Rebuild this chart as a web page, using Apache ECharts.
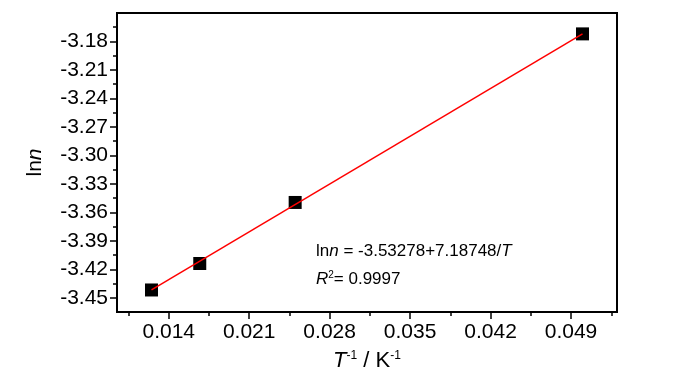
<!DOCTYPE html>
<html>
<head>
<meta charset="utf-8">
<script src="https://cdn.jsdelivr.net/npm/echarts@6/dist/echarts.min.js"></script>
<style>html,body{margin:0;padding:0;background:#fff;}#c{width:700px;height:374px;}</style>
</head>
<body>
<div id="c"></div>
<script>
// Data
var invT = [0.0125, 0.0167, 0.025, 0.05];
var lnN = [-3.4418, -3.4139, -3.3496, -3.1720];
var fitX = [0.0125, 0.05];
var fitY = [-3.4418, -3.1720];
var yMajor = [-3.45, -3.42, -3.39, -3.36, -3.33, -3.30, -3.27, -3.24, -3.21, -3.18];
var yMinor = [-3.435, -3.405, -3.375, -3.345, -3.315, -3.285, -3.255, -3.225, -3.195, -3.165];
var xMajor = [0.014, 0.021, 0.028, 0.035, 0.042, 0.049];
var xMinor = [0.0105, 0.0175, 0.0245, 0.0315, 0.0385, 0.0455, 0.0525];
var eqText = ['-3.53278+7.18748/', '0.9997'];

var FF = "'Liberation Sans',Arial,sans-serif";
var chart = echarts.init(document.getElementById('c'));
var yMin = -3.465, yMax = -3.15, xMin = 0.0095, xMax = 0.053;
function pts(xs, ys){ return xs.map(function(x,i){return [x, ys[i]];}); }

chart.setOption({
  animation: false,
  grid: {left: 117, right: 83, top: 13, bottom: 62, outerBoundsMode: 'none', containLabel: false,
         show: true, borderColor: '#000', borderWidth: 2, backgroundColor: 'transparent'},
  xAxis: [
    {type: 'value', min: xMin, max: xMax, position: 'bottom',
     axisLine: {show: true, lineStyle: {color: '#000', width: 2}},
     axisTick: {show: true, inside: false, length: 7, customValues: xMajor, lineStyle: {color: '#000', width: 1.5}},
     axisLabel: {show: true, customValues: xMajor, color: '#000', fontFamily: FF, fontSize: 21, margin: 10,
       formatter: function(v){ return v.toFixed(3); }},
     splitLine: {show: false},
     name: '{i|T}{s|-1}{n| / K}{s|-1}', nameLocation: 'middle', nameGap: 38,
     nameTextStyle: {rich: {
       i: {fontFamily: FF, fontSize: 22, fontStyle: 'italic', color: '#000'},
       n: {fontFamily: FF, fontSize: 22, color: '#000'},
       s: {fontFamily: FF, fontSize: 12, color: '#000', verticalAlign: 'top', padding: [0,0,10,0]}
     }}
    },
    {type: 'value', min: xMin, max: xMax, position: 'bottom',
     axisLine: {show: false},
     axisTick: {show: true, inside: false, length: 4, customValues: xMinor, lineStyle: {color: '#000', width: 1.5}},
     axisLabel: {show: false}, splitLine: {show: false}}
  ],
  yAxis: [
    {type: 'value', min: yMin, max: yMax, position: 'left',
     axisLine: {show: true, lineStyle: {color: '#000', width: 2}},
     axisTick: {show: true, inside: false, length: 7, customValues: yMajor, lineStyle: {color: '#000', width: 1.5}},
     axisLabel: {show: true, customValues: yMajor, color: '#000', fontFamily: FF, fontSize: 21, margin: 9,
       formatter: function(v){ return v.toFixed(2); }},
     splitLine: {show: false},
     name: '{n|ln}{i|n}', nameLocation: 'middle', nameGap: 71, nameRotate: 90,
     nameTextStyle: {rich: {
       i: {fontFamily: FF, fontSize: 21, fontStyle: 'italic', color: '#000'},
       n: {fontFamily: FF, fontSize: 21, color: '#000'}
     }}
    },
    {type: 'value', min: yMin, max: yMax, position: 'left',
     axisLine: {show: false},
     axisTick: {show: true, inside: false, length: 4, customValues: yMinor, lineStyle: {color: '#000', width: 1.5}},
     axisLabel: {show: false}, splitLine: {show: false}}
  ],
  series: [
    {type: 'scatter', data: pts(invT, lnN), symbol: 'rect', symbolSize: 13, z: 2,
     itemStyle: {color: '#000', opacity: 1}},
    {type: 'line', data: pts(fitX, fitY), symbol: 'none', z: 3,
     lineStyle: {color: '#ff0000', width: 1.5, opacity: 1}}
  ],
  graphic: [
    {type: 'text', left: 316, top: 243, style: {
      text: '{n|ln}{i|n}{n| = ' + eqText[0] + '}{i|T}',
      rich: {n: {fontFamily: FF, fontSize: 17, fill: '#000'}, i: {fontFamily: FF, fontSize: 17, fontStyle: 'italic', fill: '#000'}}
    }},
    {type: 'text', left: 316, top: 270, style: {
      text: '{i|R}{s|2}{n|= ' + eqText[1] + '}',
      rich: {n: {fontFamily: FF, fontSize: 17, fill: '#000'}, i: {fontFamily: FF, fontSize: 17, fontStyle: 'italic', fill: '#000'},
             s: {fontFamily: FF, fontSize: 10, fill: '#000', verticalAlign: 'top', padding: [0,0,8,0]}}
    }}
  ]
});
</script>
</body>
</html>
